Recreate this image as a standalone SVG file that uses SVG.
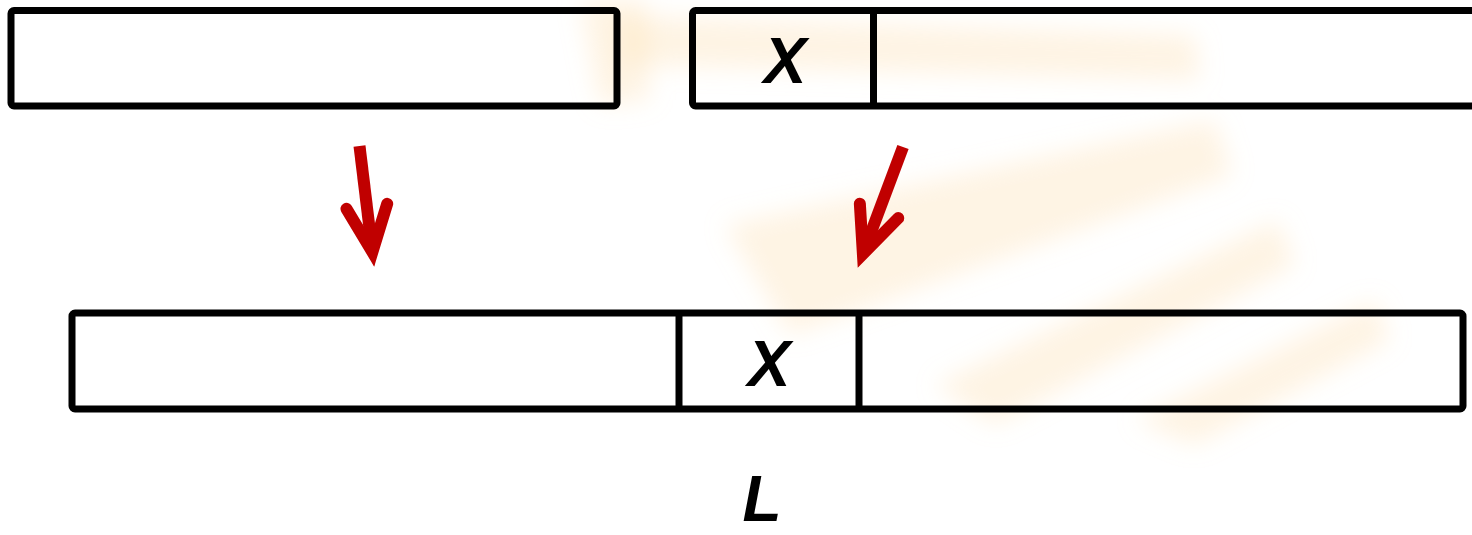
<svg xmlns="http://www.w3.org/2000/svg" width="1472" height="535" viewBox="0 0 1472 535">
<style>
.box{fill:none;stroke:#000;stroke-width:7;stroke-linejoin:round}
.div{stroke:#000;stroke-width:7}
.lbl{font-family:"Liberation Sans",Arial,sans-serif;font-style:italic;font-weight:bold;font-size:64px;fill:#000;text-anchor:middle}
.arr{stroke:#c00000;stroke-width:12;fill:none}
.wm{fill:#fbdca4;opacity:0.3}
</style>
<defs>
<filter id="blur" x="-20%" y="-20%" width="140%" height="140%"><feGaussianBlur stdDeviation="12"/></filter>
<marker id="head" markerUnits="userSpaceOnUse" orient="auto" refX="0" refY="0" markerWidth="80" markerHeight="80" overflow="visible">
<path d="M -46 -20.5 L 0 0 L -46 20.5" fill="none" stroke="#c00000" stroke-width="12" stroke-linecap="round" stroke-linejoin="miter" stroke-miterlimit="10"/>
<path d="M 14 0 L -20 -9 L -20 9 Z" fill="#c00000"/>
</marker>
</defs>
<rect width="1472" height="535" fill="#fff"/>
<g id="watermark" filter="url(#blur)">
<path class="wm" d="M580 0 L645 0 L650 100 L600 105 Z"/>
<path class="wm" d="M620 15 L1195 35 L1200 80 L620 65 Z"/>
<path class="wm" d="M725 225 L1215 120 L1232 175 L790 335 Z"/>
<path class="wm" d="M935 385 L1278 220 L1295 265 L995 425 Z"/>
<path class="wm" d="M1135 420 L1375 300 L1390 340 L1195 445 Z"/>
</g>
<g id="top-left">
<rect class="box" x="11" y="10.5" width="606" height="95.5" rx="3"/>
</g>
<g id="top-right">
<rect class="box" x="692.5" y="10.5" width="790" height="95.5" rx="3"/>
<line class="div" x1="873.5" y1="10.5" x2="873.5" y2="106"/>
<text class="lbl" x="785" y="83">X</text>
</g>
<g id="bottom">
<rect class="box" x="72" y="313" width="1391" height="96" rx="3"/>
<line class="div" x1="679" y1="313" x2="679" y2="409"/>
<line class="div" x1="859" y1="313" x2="859" y2="409"/>
<text class="lbl" x="769" y="386">X</text>
</g>
<g id="label-L">
<text class="lbl" x="762" y="521">L</text>
</g>
<g id="connectors">
<line class="arr" x1="359.5" y1="146" x2="372.4" y2="252" marker-end="url(#head)"/>
<line class="arr" x1="903" y1="147" x2="862.9" y2="254" marker-end="url(#head)"/>
</g>
</svg>
